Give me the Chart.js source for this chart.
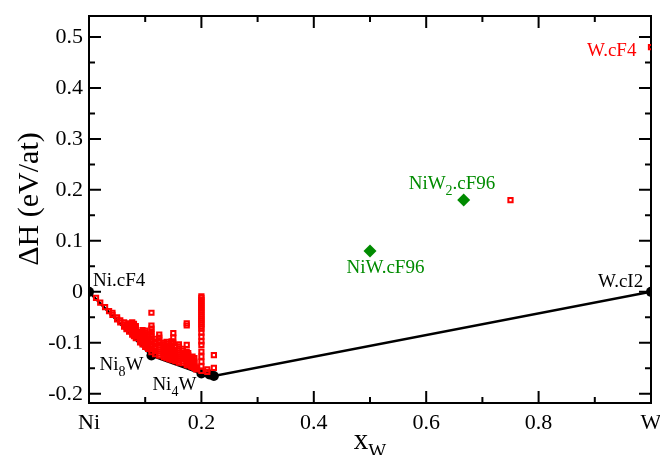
<!DOCTYPE html>
<html>
<head>
<meta charset="utf-8">
<script src="https://cdn.jsdelivr.net/npm/chart.js@4/dist/chart.umd.min.js"></script>
<style>
html,body{margin:0;padding:0;background:#fff;}
#wrap{width:660px;height:455px;position:relative;}
</style>
</head>
<body>
<div id="wrap"><canvas id="c" width="660" height="455"></canvas></div>
<script>
// ---- data ----
const xTickVals = [0, 0.2, 0.4, 0.6, 0.8, 1.0];
const xTickLabels = ['Ni', '0.2', '0.4', '0.6', '0.8', 'W'];
const xMinorVals = [0.1, 0.3, 0.5, 0.7, 0.9];
const yTickVals = [-0.2, -0.1, 0, 0.1, 0.2, 0.3, 0.4, 0.5];
const yTickLabels = ['-0.2', '-0.1', '0', '0.1', '0.2', '0.3', '0.4', '0.5'];
const yMinorVals = [-0.15, -0.05, 0.05, 0.15, 0.25, 0.35, 0.45];

// convex hull (stable phases)
const hullX = [0, 0.1111, 0.2, 0.2143, 0.2222, 1.0];
const hullY = [0, -0.125, -0.160, -0.162, -0.165, 0];

// metastable calculated structures (red squares)
const redX = [
 0.0125, 0.02, 0.0286, 0.0357,
 0.0417, 0.0417,
 0.05, 0.05,
 0.0556, 0.0556,
 0.0625, 0.0625, 0.0625,
 0.0667, 0.0667, 0.0667,
 0.0714, 0.0714, 0.0714, 0.0714, 0.0714,
 0.0769, 0.0769, 0.0769, 0.0769, 0.0769, 0.0769, 0.0769,
 0.08, 0.08, 0.08, 0.08, 0.08, 0.08, 0.08,
 0.0833, 0.0833, 0.0833, 0.0833, 0.0833, 0.0833, 0.0833,
 0.0909, 0.0909, 0.0909, 0.0909, 0.0909, 0.0909,
 0.0952, 0.0952, 0.0952, 0.0952, 0.0952, 0.0952, 0.0952, 0.0952,
 0.1, 0.1, 0.1, 0.1, 0.1, 0.1, 0.1, 0.1, 0.1,
 0.1053, 0.1053, 0.1053, 0.1053, 0.1053, 0.1053, 0.1053, 0.1053,
 0.1111, 0.1111, 0.1111, 0.1111, 0.1111, 0.1111, 0.1111, 0.1111, 0.1111, 0.1111, 0.1111, 0.1111,
 0.1176, 0.1176, 0.1176, 0.1176, 0.1176, 0.1176, 0.1176,
 0.125, 0.125, 0.125, 0.125, 0.125, 0.125, 0.125, 0.125, 0.125, 0.125,
 0.1333, 0.1333, 0.1333, 0.1333, 0.1333, 0.1333, 0.1333, 0.1333,
 0.1379, 0.1379, 0.1379, 0.1379, 0.1379, 0.1379, 0.1379, 0.1379, 0.1379,
 0.1429, 0.1429, 0.1429, 0.1429, 0.1429, 0.1429, 0.1429,
 0.1471, 0.1471, 0.1471, 0.1471, 0.1471, 0.1471, 0.1471, 0.1471, 0.1471, 0.1471,
 0.15, 0.15, 0.15, 0.15, 0.15, 0.15, 0.15, 0.15, 0.15,
 0.1538, 0.1538, 0.1538, 0.1538, 0.1538,
 0.16, 0.16, 0.16, 0.16, 0.16, 0.16, 0.16, 0.16, 0.16, 0.16,
 0.1667, 0.1667, 0.1667, 0.1667, 0.1667, 0.1667, 0.1667, 0.1667,
 0.1739, 0.1739, 0.1739, 0.1739, 0.1739, 0.1739, 0.1739, 0.1739, 0.1739,
 0.1765, 0.1765, 0.1765, 0.1765, 0.1765, 0.1765, 0.1765,
 0.1818, 0.1818, 0.1818, 0.1818,
 0.1842, 0.1842, 0.1842, 0.1842, 0.1842, 0.1842,
 0.1875, 0.1875, 0.1875, 0.1875, 0.1875,
 0.1905, 0.1905,
 0.2, 0.2, 0.2, 0.2, 0.2, 0.2, 0.2, 0.2, 0.2, 0.2, 0.2, 0.2, 0.2,
 0.2, 0.2, 0.2, 0.2, 0.2, 0.2, 0.2, 0.2, 0.2, 0.2, 0.2, 0.2, 0.2,
 0.2105, 0.2105,
 0.2222, 0.2222,
 0.75, 1.0
];
const redY = [
 -0.012, -0.021, -0.030, -0.038,
 -0.045, -0.041,
 -0.054, -0.050,
 -0.060, -0.056,
 -0.068, -0.064, -0.060,
 -0.073, -0.069, -0.065,
 -0.078, -0.074, -0.070, -0.066, -0.062,
 -0.084, -0.080, -0.076, -0.072, -0.068, -0.064, -0.060,
 -0.087, -0.083, -0.079, -0.075, -0.071, -0.067, -0.063,
 -0.091, -0.087, -0.083, -0.079, -0.075, -0.071, -0.067,
 -0.099, -0.095, -0.091, -0.087, -0.083, -0.079,
 -0.103, -0.099, -0.095, -0.091, -0.087, -0.083, -0.079, -0.075,
 -0.108, -0.104, -0.100, -0.096, -0.092, -0.088, -0.084, -0.080, -0.076,
 -0.112, -0.108, -0.104, -0.100, -0.096, -0.092, -0.088, -0.084,
 -0.118, -0.113, -0.108, -0.103, -0.098, -0.093, -0.088, -0.083, -0.078, -0.072, -0.066, -0.041,
 -0.122, -0.117, -0.112, -0.107, -0.102, -0.097, -0.092,
 -0.125, -0.121, -0.117, -0.113, -0.109, -0.105, -0.100, -0.095, -0.090, -0.084,
 -0.128, -0.124, -0.120, -0.116, -0.112, -0.108, -0.104, -0.100,
 -0.130, -0.126, -0.122, -0.118, -0.114, -0.110, -0.106, -0.102, -0.098,
 -0.132, -0.128, -0.124, -0.120, -0.116, -0.112, -0.108,
 -0.133, -0.129, -0.125, -0.121, -0.117, -0.113, -0.109, -0.105, -0.101, -0.097,
 -0.134, -0.130, -0.126, -0.122, -0.118, -0.114, -0.100, -0.090, -0.081,
 -0.136, -0.132, -0.128, -0.124, -0.120,
 -0.139, -0.135, -0.131, -0.127, -0.123, -0.119, -0.115, -0.111, -0.107, -0.103,
 -0.140, -0.136, -0.132, -0.128, -0.124, -0.120, -0.116, -0.112,
 -0.143, -0.139, -0.135, -0.131, -0.127, -0.117, -0.104, -0.066, -0.062,
 -0.144, -0.140, -0.136, -0.132, -0.128, -0.124, -0.120,
 -0.146, -0.142, -0.138, -0.134,
 -0.147, -0.143, -0.139, -0.135, -0.131, -0.127,
 -0.149, -0.145, -0.141, -0.137, -0.130,
 -0.152, -0.148,
 -0.155, -0.146, -0.137, -0.127, -0.117, -0.104, -0.097, -0.088, -0.080, -0.072, -0.068, -0.064, -0.060,
 -0.056, -0.052, -0.048, -0.044, -0.040, -0.036, -0.032, -0.028, -0.024, -0.020, -0.016, -0.012, -0.009,
 -0.157, -0.152,
 -0.149, -0.124,
 0.180, 0.480
];

// NiW cF96 prototypes (green diamonds)
const greenX = [0.5, 0.6667];
const greenY = [0.080, 0.180];

// annotation texts and their anchor points
const labelTexts = [
 [['Ni.cF4', 0]],
 [['Ni', 0], ['8', 1], ['W', 0]],
 [['Ni', 0], ['4', 1], ['W', 0]],
 [['W.cI2', 0]],
 [['W.cF4', 0]],
 [['NiW', 0], ['2', 1], ['.cF96', 0]],
 [['NiW.cF96', 0]]
];
const labelAnchorX = [0, 0.1111, 0.2, 1.0, 1.0, 0.6667, 0.5];
const labelAnchorY = [0, -0.125, -0.160, 0, 0.480, 0.180, 0.080];

// ---- presentation ----
const RED = '#ff0000', GREEN = '#008b00', BLACK = '#000000';
const labelColors = [BLACK, BLACK, BLACK, BLACK, RED, GREEN, GREEN];
const labelOffsets = [[4, -6], [-52, 14], [-49, 17], [-53, -5], [-64, 9], [-55, -11], [-23.5, 22]];
const SERIF = "'Liberation Serif', 'Times New Roman', serif";

const toPts = (xs, ys) => xs.map((v, i) => ({x: v, y: ys[i]}));

const decor = {
  id: 'decor',
  beforeDatasetsDraw(chart) {
    const {ctx, chartArea: a, scales: {x, y}} = chart;
    ctx.save();
    ctx.strokeStyle = BLACK;
    ctx.lineWidth = 2;
    ctx.beginPath();
    const xt = (v, len) => {
      const p = x.getPixelForValue(v);
      ctx.moveTo(p, a.bottom); ctx.lineTo(p, a.bottom - len);
      ctx.moveTo(p, a.top); ctx.lineTo(p, a.top + len);
    };
    const yt = (v, len) => {
      const p = y.getPixelForValue(v);
      ctx.moveTo(a.left, p); ctx.lineTo(a.left + len, p);
      ctx.moveTo(a.right, p); ctx.lineTo(a.right - len, p);
    };
    xTickVals.forEach(v => xt(v, 12));
    xMinorVals.forEach(v => xt(v, 6));
    yTickVals.forEach(v => yt(v, 12));
    yMinorVals.forEach(v => yt(v, 6));
    ctx.stroke();
    ctx.strokeRect(a.left, a.top, a.right - a.left, a.bottom - a.top);
    ctx.restore();
  },
  afterDatasetsDraw(chart) {
    const {ctx, chartArea: a, scales: {x, y}} = chart;
    ctx.save();
    ctx.textBaseline = 'alphabetic';
    ctx.textAlign = 'left';
    labelTexts.forEach((parts, i) => {
      let px = x.getPixelForValue(labelAnchorX[i]) + labelOffsets[i][0];
      const py = y.getPixelForValue(labelAnchorY[i]) + labelOffsets[i][1];
      ctx.fillStyle = labelColors[i];
      parts.forEach(([t, sub]) => {
        ctx.font = (sub ? '14px ' : '19px ') + SERIF;
        ctx.fillText(t, px, py + (sub ? 6 : 0));
        px += ctx.measureText(t).width;
      });
    });
    // x axis title: x_W
    ctx.fillStyle = BLACK;
    ctx.font = '29px ' + SERIF;
    const wx = ctx.measureText('x').width;
    ctx.font = '19px ' + SERIF;
    const wW = ctx.measureText('W').width;
    let sx = (a.left + a.right) / 2 - (wx + wW) / 2;
    ctx.font = '29px ' + SERIF;
    ctx.fillText('x', sx, 449);
    ctx.font = '19px ' + SERIF;
    ctx.fillText('W', sx + wx, 457);
    // y axis title
    ctx.save();
    ctx.translate(30, 199);
    ctx.rotate(-Math.PI / 2);
    ctx.textAlign = 'center';
    ctx.textBaseline = 'middle';
    ctx.font = '30px ' + SERIF;
    ctx.fillText('\u0394H (eV/at)', 0, 0);
    ctx.restore();
    ctx.restore();
  }
};

new Chart(document.getElementById('c'), {
  type: 'scatter',
  data: {
    datasets: [
      {
        data: toPts(redX, redY),
        pointStyle: 'rect',
        pointRadius: 3.0,
        pointBorderWidth: 2,
        pointBorderColor: RED,
        pointBackgroundColor: 'rgba(255,255,255,0)',
        showLine: false
      },
      {
        data: toPts(hullX, hullY),
        showLine: true,
        borderColor: BLACK,
        borderWidth: 2.5,
        pointRadius: 5,
        pointBackgroundColor: BLACK,
        pointBorderColor: BLACK,
        pointBorderWidth: 0
      },
      {
        data: toPts(greenX, greenY),
        pointStyle: 'rectRot',
        pointRadius: 6.5,
        pointBackgroundColor: GREEN,
        pointBorderColor: GREEN,
        pointBorderWidth: 0,
        showLine: false
      }
    ]
  },
  options: {
    responsive: false,
    animation: false,
    events: [],
    layout: {padding: {top: 16, right: 9, left: 0, bottom: 0}},
    plugins: {legend: {display: false}, tooltip: {enabled: false}},
    scales: {
      x: {
        type: 'linear',
        min: 0, max: 1,
        grid: {display: false, drawTicks: false},
        border: {display: false},
        afterBuildTicks: s => { s.ticks = xTickVals.map(v => ({value: v})); },
        afterFit: s => { s.height = 52; s.paddingLeft = 0; s.paddingRight = 0; },
        ticks: {
          autoSkip: false, maxRotation: 0, padding: 7,
          color: BLACK, font: {family: SERIF, size: 22},
          callback: (v, i) => xTickLabels[i]
        }
      },
      y: {
        type: 'linear',
        min: -0.218, max: 0.541,
        grid: {display: false, drawTicks: false},
        border: {display: false},
        afterBuildTicks: s => { s.ticks = yTickVals.map(v => ({value: v})); },
        afterFit: s => { s.width = 89; s.paddingTop = 0; s.paddingBottom = 0; },
        ticks: {
          autoSkip: false, padding: 6,
          color: BLACK, font: {family: SERIF, size: 22},
          callback: (v, i) => yTickLabels[i]
        }
      }
    }
  },
  plugins: [decor]
});
</script>
</body>
</html>
